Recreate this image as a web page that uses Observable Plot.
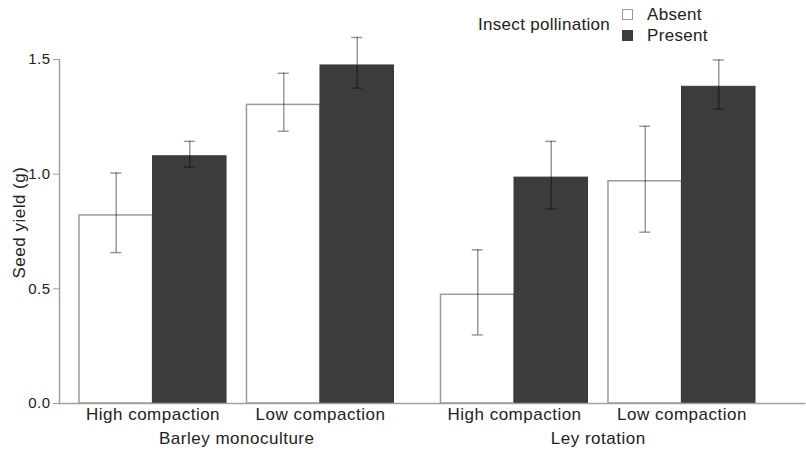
<!DOCTYPE html>
<html>
<head>
<meta charset="utf-8">
<script src="https://cdn.jsdelivr.net/npm/d3@7"></script>
<script src="https://cdn.jsdelivr.net/npm/@observablehq/plot@0.6"></script>
<style>
  html, body { margin: 0; padding: 0; background: #fff; }
  #wrap { position: relative; width: 806px; height: 455px; font-family: "Liberation Sans", Arial, sans-serif; color: #222; }
  #legend { position: absolute; left: 478px; top: 4px; display: flex; align-items: center; font-size: 17px; letter-spacing: 0.3px; }
  #legend .title { margin-right: 12px; }
  #legend .item { display: flex; align-items: center; height: 21px; }
  #legend .sw { width: 9px; height: 9px; border: 1px solid #999; margin-right: 14px; box-sizing: content-box; }
  #chart svg text { letter-spacing: 0.5px; }
  #chart svg text.ylab { letter-spacing: 1.2px; }
</style>
</head>
<body>
<div id="wrap"><div id="chart"></div><div id="legend"></div></div>
<script>
// ---- data ----
const system = ["Barley monoculture","Barley monoculture","Barley monoculture","Barley monoculture",
                "Ley rotation","Ley rotation","Ley rotation","Ley rotation"];
const compaction = ["High compaction","High compaction","Low compaction","Low compaction",
                    "High compaction","High compaction","Low compaction","Low compaction"];
const pollination = ["Absent","Present","Absent","Present","Absent","Present","Absent","Present"];
const yieldMean = [0.82, 1.078, 1.302, 1.474, 0.474, 0.985, 0.969, 1.381];
const errLow    = [0.658, 1.031, 1.187, 1.375, 0.299, 0.849, 0.747, 1.283];
const errHigh   = [1.005, 1.143, 1.440, 1.596, 0.670, 1.143, 1.209, 1.498];
const yTicks = [0, 0.5, 1.0, 1.5];
const systems = ["Barley monoculture", "Ley rotation"];
const compactions = ["High compaction", "Low compaction"];
const pollinations = ["Absent", "Present"];
const fills = ["#ffffff", "#3c3c3c"];
const yLabel = "Seed yield (g)";

const rows = system.map((s, i) => ({
  system: s, compaction: compaction[i], pollination: pollination[i],
  mean: yieldMean[i], lo: errLow[i], hi: errHigh[i]
}));
const absent = rows.filter(d => d.pollination === "Absent");
const present = rows.filter(d => d.pollination === "Present");

// ---- layout ----
const W = 806, H = 455, ML = 59, MR = 1, MT = 59, MB = 52;
const fxInL = 20, fxInR = 50, fxPad = 0.13, xPad = 0.122;
const fxBW = (W - ML - MR - fxInL - fxInR) / (2 - fxPad) * (1 - fxPad);
const xBW = fxBW / (2 - xPad) * (1 - xPad);
const HALF = xBW / 2;
const CAP = 11;
const capInset = (xBW - CAP) / 2;
const axisColor = "#a0a0a0";
const errStyle = {stroke: "black", strokeOpacity: 0.4, strokeWidth: 1.5};

const chart = Plot.plot({
  width: W, height: H,
  marginLeft: ML, marginRight: MR, marginTop: MT, marginBottom: MB,
  style: {fontFamily: "Liberation Sans, Arial, sans-serif", fontSize: "17px", color: "#222", background: "white"},
  fx: {domain: systems, insetLeft: fxInL, insetRight: fxInR, paddingInner: fxPad, paddingOuter: 0, round: false, label: null},
  x: {domain: compactions, paddingInner: xPad, paddingOuter: 0, round: false, label: null},
  y: {domain: [0, 1.5], label: null},
  marks: [
    Plot.barY(absent, {fx: "system", x: "compaction", y: "mean", fill: fills[0], stroke: "#9a9a9a", strokeWidth: 1.5, insetRight: HALF}),
    Plot.barY(present, {fx: "system", x: "compaction", y: "mean", fill: fills[1], stroke: "#383838", strokeWidth: 1, insetLeft: HALF}),
    Plot.ruleX(absent, {fx: "system", x: "compaction", y1: "lo", y2: "hi", dx: -HALF / 2, ...errStyle}),
    Plot.ruleX(present, {fx: "system", x: "compaction", y1: "lo", y2: "hi", dx: HALF / 2, ...errStyle}),
    Plot.tickY(absent, {fx: "system", x: "compaction", y: "hi", dx: -HALF / 2, insetLeft: capInset, insetRight: capInset, ...errStyle}),
    Plot.tickY(absent, {fx: "system", x: "compaction", y: "lo", dx: -HALF / 2, insetLeft: capInset, insetRight: capInset, ...errStyle}),
    Plot.tickY(present, {fx: "system", x: "compaction", y: "hi", dx: HALF / 2, insetLeft: capInset, insetRight: capInset, ...errStyle}),
    Plot.tickY(present, {fx: "system", x: "compaction", y: "lo", dx: HALF / 2, insetLeft: capInset, insetRight: capInset, ...errStyle}),
    Plot.frame({facet: "super", anchor: "left", insetLeft: -fxInL, stroke: axisColor, strokeWidth: 1.5}),
    Plot.frame({facet: "super", anchor: "bottom", insetLeft: -fxInL, insetRight: -(fxInR - 1), stroke: axisColor, strokeWidth: 1.5}),
    Plot.axisY({ticks: yTicks, tickFormat: d3.format(".1f"), tickSize: 6, tickPadding: 3, dx: -fxInL,
      stroke: axisColor, fontSize: 15, label: null}),
    Plot.text([yLabel], {facet: "super", frameAnchor: "left", rotate: -90, dx: -(fxInL + 40), dy: 47, fontSize: 17, fill: "#222", className: "ylab"}),
    Plot.axisX({anchor: "bottom", tickSize: 0, tickPadding: 4, label: null, fontSize: 17}),
    Plot.axisFx({anchor: "bottom", tickSize: 0, tickPadding: 28, label: null, fontSize: 17})
  ]
});
document.getElementById("chart").appendChild(chart);

// ---- legend ----
const legend = document.getElementById("legend");
const title = document.createElement("div");
title.className = "title";
title.textContent = "Insect pollination";
legend.appendChild(title);
const col = document.createElement("div");
pollinations.forEach((p, i) => {
  const item = document.createElement("div");
  item.className = "item";
  const sw = document.createElement("div");
  sw.className = "sw";
  sw.style.background = fills[i];
  if (i === 1) sw.style.borderColor = "#3c3c3c";
  const t = document.createElement("span");
  t.textContent = p;
  item.appendChild(sw); item.appendChild(t);
  col.appendChild(item);
});
legend.appendChild(col);
</script>
</body>
</html>
